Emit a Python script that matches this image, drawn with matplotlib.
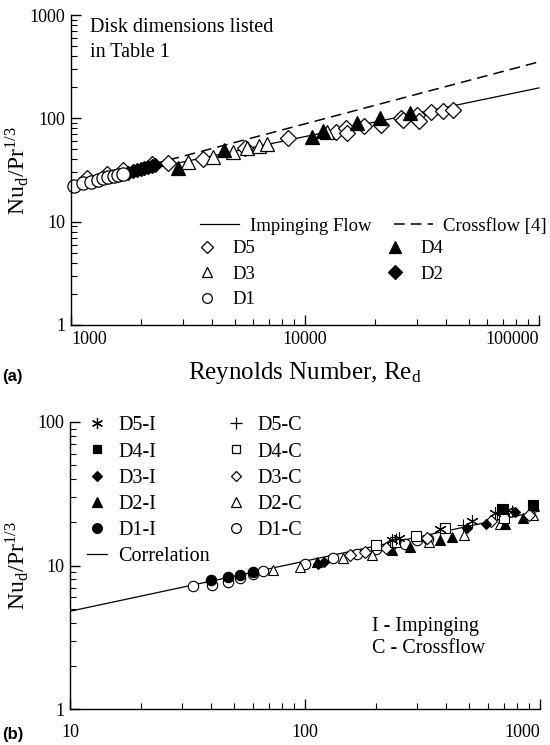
import matplotlib
matplotlib.use("Agg")
import matplotlib.pyplot as plt
from matplotlib.lines import Line2D
from matplotlib.ticker import LogLocator, NullFormatter, FixedLocator, FixedFormatter

plt.rcParams['font.family'] = ['Liberation Serif', 'DejaVu Serif']
plt.rcParams['mathtext.fontset'] = 'stix'

# ---- panel (a): Nu_d/Pr^1/3 vs Re_d ----
re_d1 = [1030, 1130, 1220, 1300, 1370, 1440, 1520, 1590, 1670]
nu_d1 = [22.3, 23.7, 24.3, 25.5, 26.2, 26.8, 27.4, 28.3, 28.7]

re_d2 = [1750, 1840, 1910, 1990, 2050, 2130, 2220, 2290]
nu_d2 = [29.9, 30.6, 31.3, 32.3, 33.0, 33.8, 34.9, 35.6]

re_d3 = [3160, 4040, 4920, 5660, 6360, 6890, 12400]
nu_d3 = [38.0, 42.5, 47.5, 51.3, 54.2, 56.1, 73.3]

re_d4 = [2860, 4510, 10700, 11900, 16600, 20900, 28100]
nu_d4 = [33.3, 49.7, 66.2, 75.7, 90.6, 101, 113]

re_d5 = [1170, 1425, 1670, 2220, 2610, 3650, 5540, 8450, 13600, 15000, 15100,
         17900, 21100, 25700, 26200, 30100, 30600, 34600, 38900, 42900]
nu_d5 = [26.6, 29.1, 31.5, 36.3, 36.9, 40.8, 51.5, 64.4, 74.1, 80.9, 72.4,
         83.8, 86.5, 100, 96, 108, 93.6, 114, 117, 121]

re_line = [1000, 100000]
nu_imp_line = [22.5, 197]
nu_cross_line = [22.2, 352]

# ---- panel (b) ----
b_d1c_x = [33.3, 40.1, 46.9, 52.9, 59.9, 66.4, 100, 132, 166, 200, 232, 266, 299, 333]
b_d1c_y = [7.17, 7.36, 7.69, 8.24, 8.75, 9.13, 10.3, 11.3, 12.1, 13.1, 13.9, 14.2, 15.0, 15.3]
b_d1i_x = [40, 47, 53, 60]
b_d1i_y = [7.9, 8.33, 8.65, 9.03]
b_d2c_x = [73, 95, 145, 192, 338, 477, 676, 938]
b_d2c_y = [9.27, 9.8, 11.2, 11.8, 14.5, 16.3, 19.6, 22.5]
b_d2i_x = [112, 234, 280, 376, 424, 712, 849]
b_d2i_y = [10.5, 12.8, 13.5, 15.0, 15.9, 19.6, 21.3]
b_d3i_x = [114, 120, 488, 592, 785]
b_d3i_y = [10.2, 10.5, 18.2, 19.6, 23.7]
b_d3c_x = [155, 180, 222, 330, 620, 900]
b_d3c_y = [11.8, 12.4, 13.2, 15.6, 20.5, 22.5]
b_d4c_x = [200, 241, 298, 394, 690, 700]
b_d4c_y = [13.9, 14.6, 16.0, 18.3, 22.8, 21.5]
b_d4i_x = [687, 938]
b_d4i_y = [24.8, 26.4]
b_d5i_x = [234, 250, 376, 513, 643, 730]
b_d5i_y = [15.0, 15.6, 18.1, 20.4, 23.1, 24.4]
b_d5c_x = [245, 470, 760]
b_d5c_y = [15.3, 19.3, 23.8]
b_line_x = [10, 1000]
b_line_y = [4.8, 24.0]

FS = 14.5
FS_A = 13.5

fig = plt.figure(figsize=(5.5, 7.45), dpi=100)
ax1 = fig.add_axes([71/550, 1-325/745, 468/550, 310/745])
ax2 = fig.add_axes([70/550, 1-709/745, 470/550, 287/745])


def style_axis(ax, xmaj, ymaj):
    ax.set_xscale('log')
    ax.set_yscale('log')
    for s in ['top', 'right']:
        ax.spines[s].set_visible(False)
    for s in ['left', 'bottom']:
        ax.spines[s].set_linewidth(1.0)
    ax.xaxis.set_major_locator(FixedLocator(xmaj))
    ax.xaxis.set_major_formatter(FixedFormatter([str(v) for v in xmaj]))
    ax.yaxis.set_major_locator(FixedLocator(ymaj))
    ax.yaxis.set_major_formatter(FixedFormatter([str(v) for v in ymaj]))
    ax.xaxis.set_minor_locator(LogLocator(base=10, subs=range(2, 10)))
    ax.yaxis.set_minor_locator(LogLocator(base=10, subs=range(2, 10)))
    ax.xaxis.set_minor_formatter(NullFormatter())
    ax.yaxis.set_minor_formatter(NullFormatter())
    ax.tick_params(which='major', direction='in', length=7, width=1, labelsize=13,
                   top=False, right=False, pad=4)
    ax.tick_params(which='minor', direction='in', length=4, width=0.8,
                   top=False, right=False)


# panel (a)
ax1.plot(re_line, nu_cross_line, 'k', lw=1.1, dashes=(7, 4), zorder=1, clip_on=False)
ax1.plot(re_line, nu_imp_line, 'k-', lw=0.9, zorder=1, clip_on=False)
mk = dict(ls='none', mec='k', mew=0.9, clip_on=False)
ax1.plot(re_d5, nu_d5, marker='D', ms=8, mfc='white', **mk)
ax1.plot(re_d3, nu_d3, marker='^', ms=9.5, mfc='white', **mk)
ax1.plot(re_d4, nu_d4, marker='^', ms=9.5, mfc='k', **mk)
ax1.plot(re_d2, nu_d2, marker='D', ms=7.5, mfc='k', **mk)
ax1.plot(re_d1, nu_d1, marker='o', ms=9.5, mfc='white', **mk)
ax1.set_xlim(1000, 100000)
ax1.set_ylim(1, 1000)
style_axis(ax1, [1000, 10000, 100000], [1, 10, 100, 1000])
xl = ax1.get_xticklabels()
xl[0].set_ha('left')
xl[-1].set_ha('right')
ax1.set_xlabel(r'Reynolds Number, Re$_\mathregular{d}$', fontsize=18, labelpad=9)
ax1.set_ylabel(r'Nu$_\mathregular{d}$/Pr$^\mathregular{1/3}$', fontsize=17)
ax1.yaxis.set_label_coords(-0.085, 0.5)
ax1.text(0.041, 0.99, 'Disk dimensions listed\nin Table 1', transform=ax1.transAxes,
         fontsize=FS, va='top', ha='left', linespacing=1.4)

lk = dict(color='k', mec='k', mew=0.9, ls='none')
h_lines = [Line2D([], [], color='k', lw=0.9),
           Line2D([], [], color='k', lw=1.1, dashes=(7, 4))]
leg_lines = ax1.legend(h_lines, ['Impinging Flow', 'Crossflow [4]'], ncol=2,
                       loc='center left', bbox_to_anchor=(0.2756, 0.318),
                       frameon=False, fontsize=FS_A, handlelength=2.1,
                       handletextpad=0.55, columnspacing=1.2, borderpad=0,
                       borderaxespad=0)
ax1.add_artist(leg_lines)
h_a = [Line2D([], [], marker='D', ms=6, mfc='white', **lk),
       Line2D([], [], marker='^', ms=6.5, mfc='white', **lk),
       Line2D([], [], marker='o', ms=7, mfc='white', **lk),
       Line2D([], [], marker='^', ms=8, mfc='k', **lk),
       Line2D([], [], marker='D', ms=7, mfc='k', **lk)]
l_a = ['D5', 'D3', 'D1', 'D4', 'D2']
ax1.legend(h_a, l_a, ncol=2, loc='upper left', bbox_to_anchor=(0.269, 0.274),
           frameon=False, fontsize=FS_A, handlelength=1.05, handletextpad=0.85,
           columnspacing=6.9, labelspacing=0.45, borderpad=0, borderaxespad=0)

# panel (b)
ax2.plot(b_line_x, b_line_y, 'k-', lw=0.9, zorder=1)
mb = dict(ls='none', mec='k', mew=0.8, clip_on=False)
ax2.plot(b_d1c_x, b_d1c_y, marker='o', ms=7.5, mfc='white', **mb)
ax2.plot(b_d1i_x, b_d1i_y, marker='o', ms=7.5, mfc='k', **mb)
ax2.plot(b_d2c_x, b_d2c_y, marker='^', ms=7.5, mfc='white', **mb)
ax2.plot(b_d2i_x, b_d2i_y, marker='^', ms=7.5, mfc='k', **mb)
ax2.plot(b_d3c_x, b_d3c_y, marker='D', ms=6, mfc='white', **mb)
ax2.plot(b_d3i_x, b_d3i_y, marker='D', ms=5.5, mfc='k', **mb)
ax2.plot(b_d4c_x, b_d4c_y, marker='s', ms=7, mfc='white', **mb)
ax2.plot(b_d4i_x, b_d4i_y, marker='s', ms=7, mfc='k', **mb)
ax2.plot(b_d5i_x, b_d5i_y, marker=(6, 2, 0), ms=9, **mb)
ax2.plot(b_d5c_x, b_d5c_y, marker='+', ms=8, **mb)
ax2.set_xlim(10, 1000)
ax2.set_ylim(1, 100)
style_axis(ax2, [10, 100, 1000], [1, 10, 100])
ax2.tick_params(axis='x', which='major', pad=11)
ax2.get_xticklabels()[-1].set_ha('right')
ax2.set_ylabel(r'Nu$_\mathregular{d}$/Pr$^\mathregular{1/3}$', fontsize=17)
ax2.yaxis.set_label_coords(-0.083, 0.5)
ax2.text(0.643, 0.322, 'I - Impinging\nC - Crossflow', transform=ax2.transAxes,
         fontsize=FS, va='top', ha='left', linespacing=1.25)

h_b = [Line2D([], [], marker=(6, 2, 0), ms=8, **lk),
       Line2D([], [], marker='s', ms=6, mfc='k', **lk),
       Line2D([], [], marker='D', ms=5, mfc='k', **lk),
       Line2D([], [], marker='^', ms=6.5, mfc='k', **lk),
       Line2D([], [], marker='o', ms=7, mfc='k', **lk),
       Line2D([], [], color='k', lw=0.9),
       Line2D([], [], marker='+', ms=8, **lk),
       Line2D([], [], marker='s', ms=6, mfc='white', **lk),
       Line2D([], [], marker='D', ms=5, mfc='white', **lk),
       Line2D([], [], marker='^', ms=6.5, mfc='white', **lk),
       Line2D([], [], marker='o', ms=7, mfc='white', **lk)]
l_b = ['D5-I', 'D4-I', 'D3-I', 'D2-I', 'D1-I', 'Correlation',
       'D5-C', 'D4-C', 'D3-C', 'D2-C', 'D1-C']
ax2.legend(h_b, l_b, ncol=2, loc='upper left', bbox_to_anchor=(0.036, 1.02),
           frameon=False, fontsize=FS, handlelength=1.0, handletextpad=0.55,
           columnspacing=0.8, labelspacing=0.35, borderpad=0, borderaxespad=0)

fig.text(2/550, 1-376/745, '(a)', fontsize=12, fontweight='bold',
         family='Liberation Sans', va='center', ha='left')
fig.text(2/550, 1-735/745, '(b)', fontsize=12, fontweight='bold',
         family='Liberation Sans', va='center', ha='left')

fig.savefig('out.png', dpi=100)
